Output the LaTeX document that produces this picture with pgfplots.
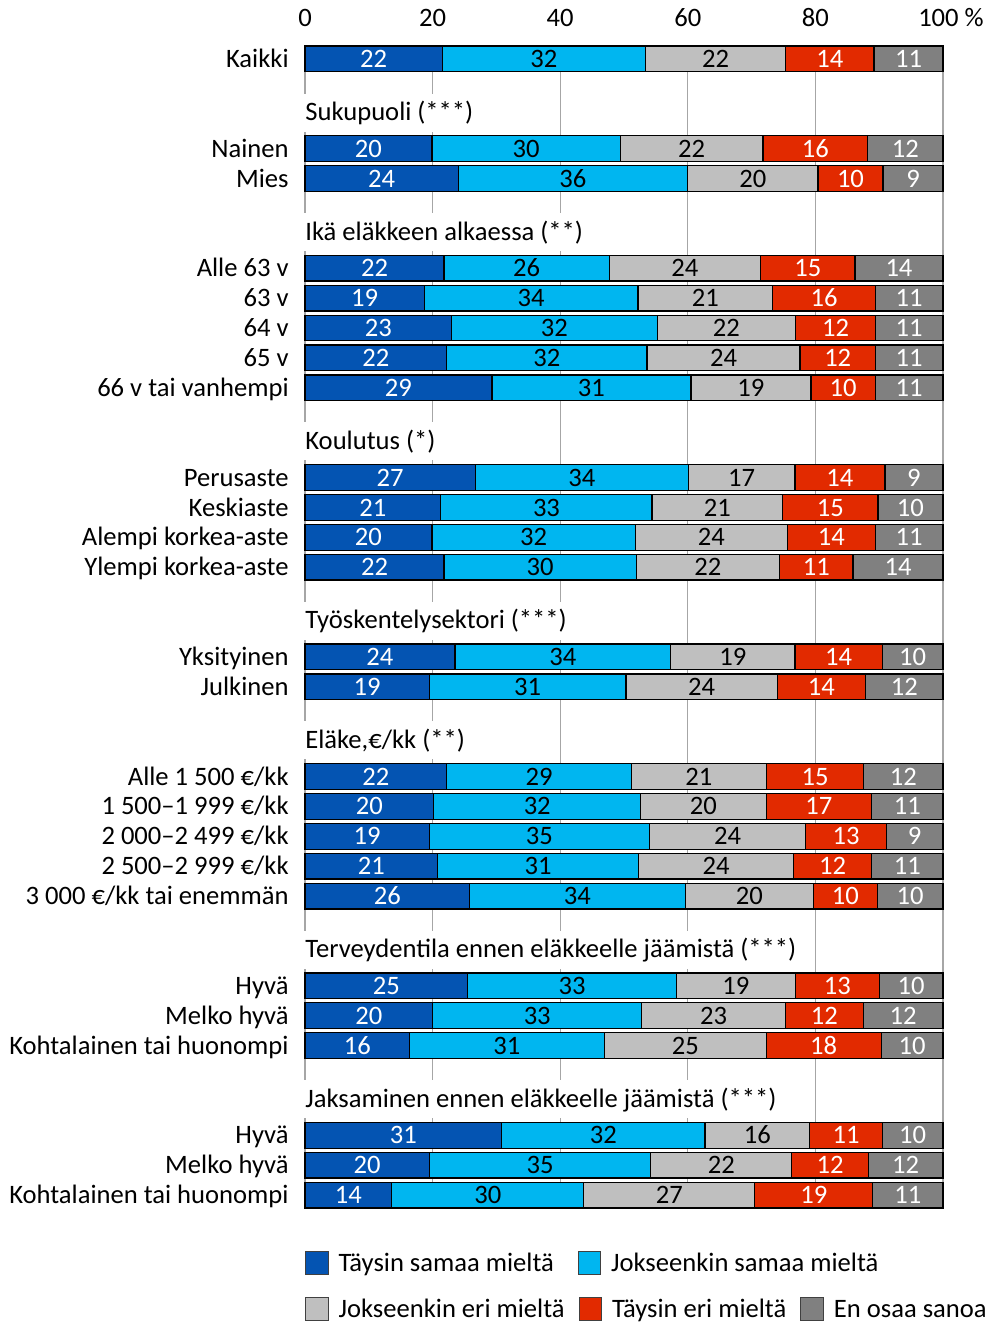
\documentclass[border=0pt]{standalone}
\usepackage{fontspec}
\setmainfont{Carlito}
\usepackage{pgfplots}
\pgfplotsset{compat=1.18}
\usepackage{pgfplotstable}

\definecolor{cA}{RGB}{4,84,178}
\definecolor{cB}{RGB}{0,182,240}
\definecolor{cC}{RGB}{191,191,191}
\definecolor{cD}{RGB}{226,42,0}
\definecolor{cE}{RGB}{128,128,128}

% y = row position (top to bottom), a..e = bar widths, la..le = printed labels
\pgfplotstableread{
y a b c d e la lb lc ld le
0 21.5 31.9 21.9 13.9 10.8 22 32 22 14 11
-3 19.9 29.5 22.4 16.4 11.8 20 30 22 16 12
-4 24.0 36.0 20.4 10.2 9.4 24 36 20 10 9
-7 21.8 25.9 23.7 14.8 13.8 22 26 24 15 14
-8 18.7 33.5 21.1 16.1 10.6 19 34 21 16 11
-9 23.0 32.2 21.7 12.5 10.6 23 32 22 12 11
-10 22.2 31.4 24.0 11.8 10.6 22 32 24 12 11
-11 29.3 31.2 18.8 10.1 10.6 29 31 19 10 11
-14 26.7 33.4 16.7 14.1 9.1 27 34 17 14 9
-15 21.3 33.1 20.5 14.9 10.2 21 33 21 15 10
-16 19.9 31.9 23.8 13.8 10.6 20 32 24 14 11
-17 21.8 30.1 22.5 11.5 14.1 22 30 22 11 14
-20 23.5 33.8 19.5 13.7 9.5 24 34 19 14 10
-21 19.5 30.8 23.7 13.9 12.1 19 31 24 14 12
-24 22.2 29.0 21.1 15.3 12.4 22 29 21 15 12
-25 20.2 32.4 19.7 16.5 11.2 20 32 20 17 11
-26 19.5 34.5 24.5 12.6 8.9 19 35 24 13 9
-27 20.8 31.5 24.3 12.2 11.2 21 31 24 12 11
-28 25.8 33.8 20.1 10.0 10.3 26 34 20 10 10
-31 25.5 32.7 18.7 13.1 10.0 25 33 19 13 10
-32 20.0 32.8 22.5 12.2 12.5 20 33 23 12 12
-33 16.4 30.5 25.4 18.0 9.7 16 31 25 18 10
-36 30.8 31.9 16.4 11.4 9.5 31 32 16 11 10
-37 19.5 34.7 22.1 12.0 11.7 20 35 22 12 12
-38 13.6 30.1 26.8 18.5 11.0 14 30 27 19 11
}\data

\pgfplotsset{
  sq legend/.style={legend image code/.code={
    \draw[##1, draw=black!75, line width=0.5pt] (0pt,-5.65pt) rectangle (11.3pt,5.65pt);}},
  lbl/.style={draw=none, mark=none, forget plot, nodes near coords,
    point meta=explicit symbolic, nodes near coords align=center,
    every node near coord/.append style={anchor=center, inner sep=0pt,
      text height=8.6pt, text depth=0pt, #1}},
}

\begin{document}
\fontsize{13.3}{16}\selectfont
\begin{tikzpicture}
\begin{axis}[
  scale only axis, width=319pt, height=581.5pt,
  xbar stacked, bar width=0.86,
  xmin=0, xmax=100, ymin=-38.45, ymax=0.45,
  axis line style={draw=none}, tick style={draw=none}, major tick length=0pt,
  xmajorgrids, grid style={draw=black!35, line width=0.6pt},
  xtick={0,20,40,60,80,100},
  xticklabels={0,20,40,60,80,\hspace*{8pt}100~\%},
  xticklabel pos=top,
  xticklabel style={inner sep=0pt, yshift=9pt},
  ytick={0,-3,-4,-7,-8,-9,-10,-11,-14,-15,-16,-17,-20,-21,-24,-25,-26,-27,-28,-31,-32,-33,-36,-37,-38},
  yticklabels={Kaikki,Nainen,Mies,Alle 63 v,63 v,64 v,65 v,66 v tai vanhempi,
    Perusaste,Keskiaste,Alempi korkea-aste,Ylempi korkea-aste,
    Yksityinen,Julkinen,
    Alle 1 500 €/kk,1 500–1 999 €/kk,2 000–2 499 €/kk,2 500–2 999 €/kk,3 000 €/kk tai enemmän,
    Hyvä,Melko hyvä,Kohtalainen tai huonompi,
    Hyvä,Melko hyvä,Kohtalainen tai huonompi},
  yticklabel style={inner sep=0pt, xshift=-8pt, text height=8.6pt, text depth=0pt},
  clip=false,
  sq legend,
  legend columns=2,
  legend style={at={(0,-0.0469)}, anchor=west, draw=none, fill=none,
    inner sep=0pt, outer sep=0pt,
    nodes={inner xsep=5pt, inner ysep=0pt, text height=8.6pt, text depth=0pt},
    /tikz/every even column/.append style={column sep=6.8pt}},
]
\addplot[fill=cA, draw=black, line width=0.6pt] table[x=a, y=y] {\data};
\addlegendentry{Täysin samaa mieltä}
\addplot[fill=cB, draw=black, line width=0.6pt] table[x=b, y=y] {\data};
\addlegendentry{Jokseenkin samaa mieltä}
\addplot[fill=cC, draw=black, line width=0.6pt] table[x=c, y=y] {\data};
\addplot[fill=cD, draw=black, line width=0.6pt] table[x=d, y=y] {\data};
\addplot[fill=cE, draw=black, line width=0.6pt] table[x=e, y=y] {\data};

\tikzset{hdr/.style={anchor=base west, fill=white, inner xsep=1pt, inner ysep=2.5pt,
  text height=11pt, text depth=3pt, xshift=-1pt}}
\node[hdr] at (axis cs:0,-2.06) {Sukupuoli (***)};
\node[hdr] at (axis cs:0,-6.06) {Ikä eläkkeen alkaessa (**)};
\node[hdr] at (axis cs:0,-13.06) {Koulutus (*)};
\node[hdr] at (axis cs:0,-19.06) {Työskentelysektori (***)};
\node[hdr] at (axis cs:0,-23.06) {Eläke,€/kk (**)};
\node[hdr] at (axis cs:0,-30.06) {Terveydentila ennen eläkkeelle jäämistä (***)};
\node[hdr] at (axis cs:0,-35.06) {Jaksaminen ennen eläkkeelle jäämistä (***)};
\end{axis}

% same frame: segment labels and the second legend row
\begin{axis}[
  scale only axis, width=319pt, height=581.5pt, hide axis,
  xmin=0, xmax=100, ymin=-38.45, ymax=0.45, clip=false,
  sq legend,
  legend columns=3,
  legend style={at={(0,-0.0864)}, anchor=west, draw=none, fill=none,
    inner sep=0pt, outer sep=0pt,
    nodes={inner xsep=5pt, inner ysep=0pt, text height=8.6pt, text depth=0pt},
    /tikz/every even column/.append style={column sep=2pt}},
]
\addlegendimage{fill=cC, draw=black}
\addlegendentry{Jokseenkin eri mieltä}
\addlegendimage{fill=cD, draw=black}
\addlegendentry{Täysin eri mieltä}
\addlegendimage{fill=cE, draw=black}
\addlegendentry{En osaa sanoa}

\addplot[lbl=white] table[x expr=\thisrow{a}/2, y=y, meta=la] {\data};
\addplot[lbl=black] table[x expr=\thisrow{a}+\thisrow{b}/2, y=y, meta=lb] {\data};
\addplot[lbl=black] table[x expr=\thisrow{a}+\thisrow{b}+\thisrow{c}/2, y=y, meta=lc] {\data};
\addplot[lbl=white] table[x expr=\thisrow{a}+\thisrow{b}+\thisrow{c}+\thisrow{d}/2, y=y, meta=ld] {\data};
\addplot[lbl=white] table[x expr=100-\thisrow{e}/2, y=y, meta=le] {\data};
\end{axis}

\pgfresetboundingbox
\path[use as bounding box] (-152.5pt,-56.75pt) rectangle (342pt,604.25pt);
\end{tikzpicture}
\end{document}
